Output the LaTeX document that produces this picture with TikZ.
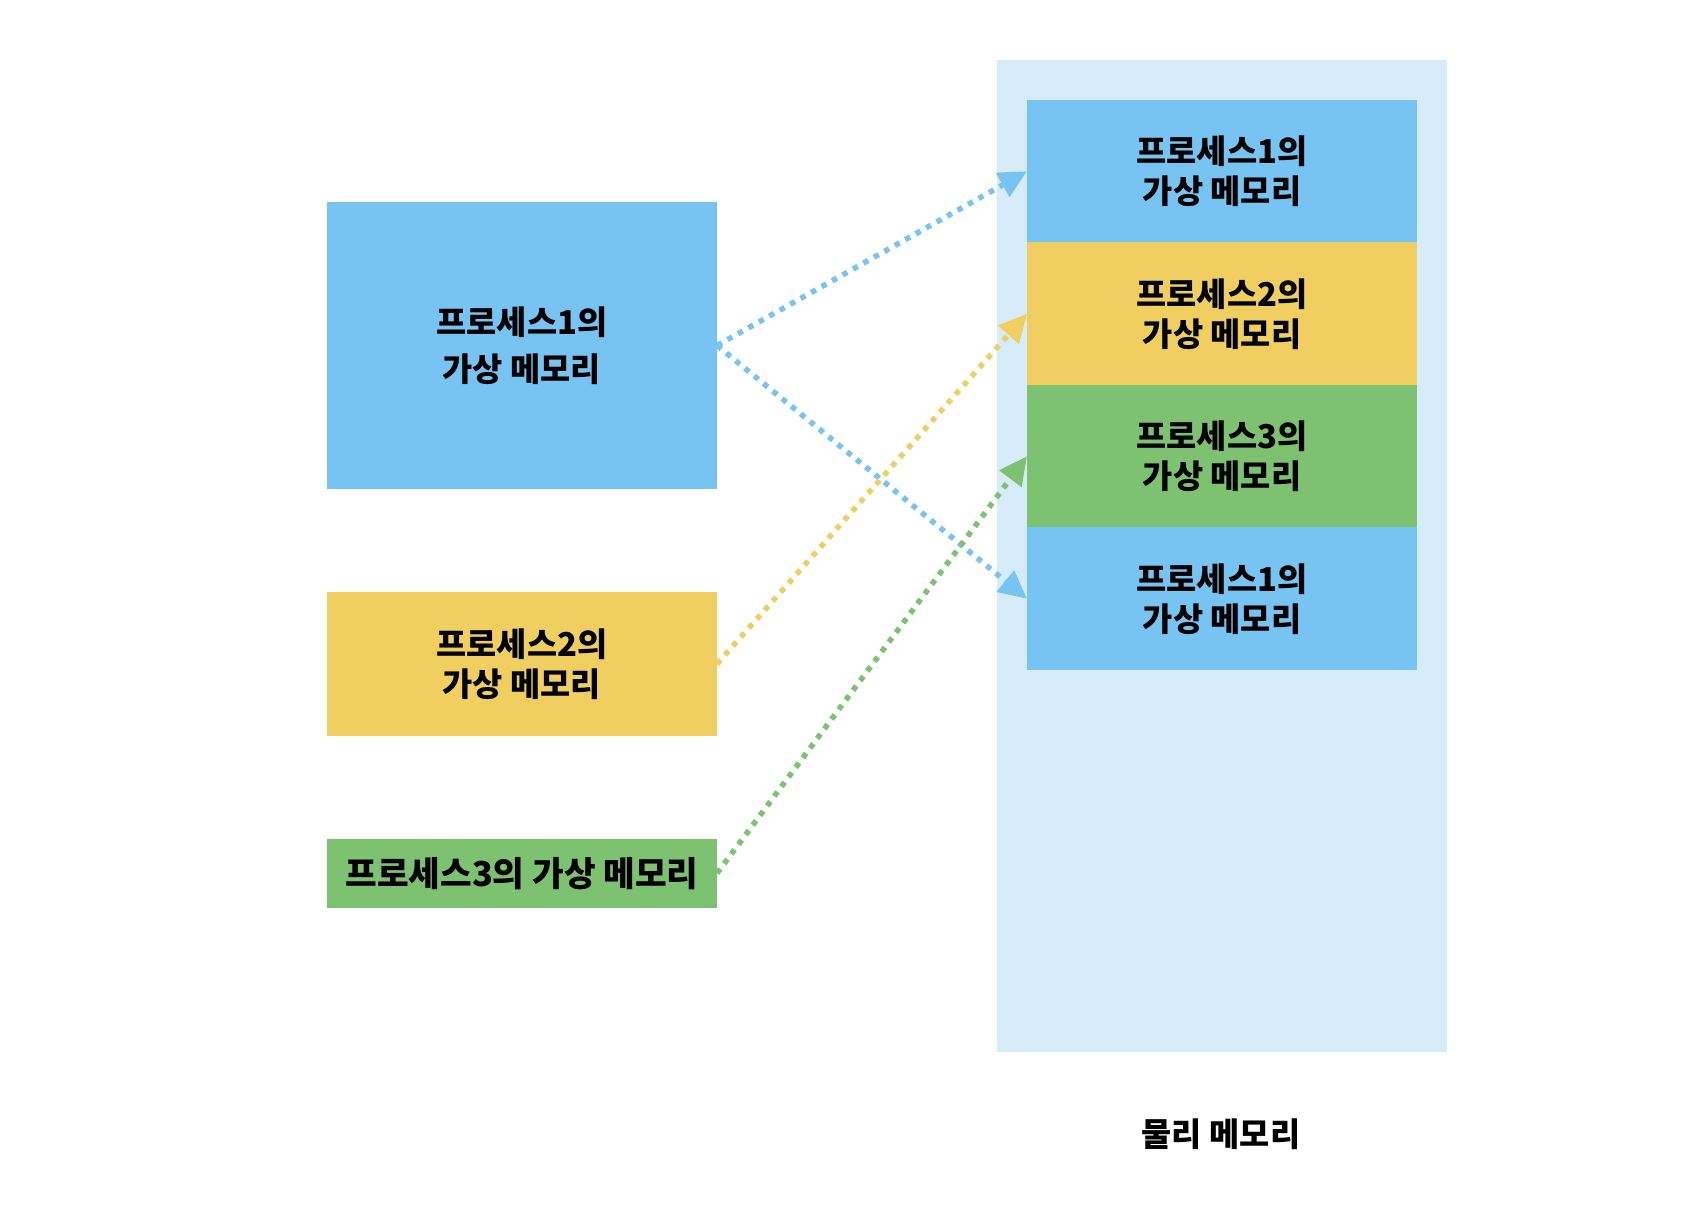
\documentclass[tikz,border=0pt]{standalone}
\usepackage{fontspec}
\newfontfamily\kr{Noto Sans CJK KR}
\usetikzlibrary{arrows.meta}
\definecolor{pblue}{HTML}{77C3F1}
\definecolor{pyellow}{HTML}{F0CE60}
\definecolor{pgreen}{HTML}{7DC271}
\definecolor{ppanel}{HTML}{D6ECFA}
\begin{document}
\begin{tikzpicture}[x=0.75pt,y=-0.75pt,
  box/.style={inner sep=0pt, outer sep=0pt, align=center, text=black,
    minimum width=292.5pt, font=\kr\bfseries\fontsize{24.6}{30}\selectfont},
  memcell/.style={box, minimum height=106.9pt},
  link/.style={line width=4.1pt, dash pattern=on 4.1pt off 4.9pt,
    -{Triangle[length=21pt,width=20pt]}}]
\useasboundingbox (0,0) rectangle (1708,1212);
\fill[ppanel] (997,60) rectangle (1447,1052);
% left: virtual memories
\node[box, fill=pblue, minimum height=215.25pt, font=\kr\bfseries\fontsize{24.6}{35}\selectfont] (v1) at (522,345.5) {프로세스1의\\가상 메모리};
\node[box, fill=pyellow, minimum height=107.8pt] (v2) at (522,664) {프로세스2의\\가상 메모리};
\node[box, fill=pgreen, minimum height=51.5pt, font=\kr\bfseries\fontsize{25.8}{30}\selectfont] (v3) at (522,873.3) {프로세스3의 가상 메모리};
% right: physical memory
\node[memcell, fill=pblue] (m1) at (1222,171.25) {프로세스1의\\가상 메모리};
\node[memcell, fill=pyellow] (m2) at (1222,313.75) {프로세스2의\\가상 메모리};
\node[memcell, fill=pgreen] (m3) at (1222,456.25) {프로세스3의\\가상 메모리};
\node[memcell, fill=pblue] (m4) at (1222,598.75) {프로세스1의\\가상 메모리};
\node[font=\kr\bfseries\fontsize{24.6}{30}\selectfont, text=black] (phys) at (1221,1134) {물리 메모리};
% connectors
\draw[link, pblue] (v1.east) -- (m1.west);
\draw[link, pblue] (v1.east) -- (m4.west);
\draw[link, pyellow] (v2.east) -- (m2.west);
\draw[link, pgreen] (v3.east) -- (m3.west);
\end{tikzpicture}
\end{document}
